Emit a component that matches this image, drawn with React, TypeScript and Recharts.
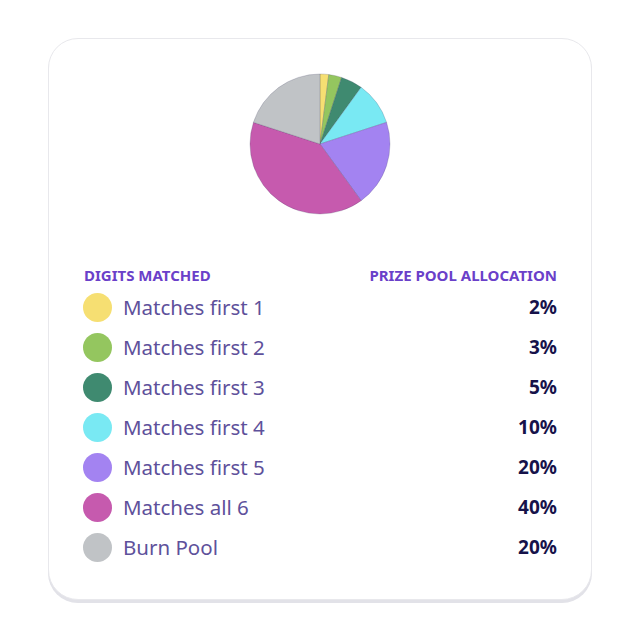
import { PieChart, Pie, Cell } from 'recharts';

const labels = ['Matches first 1', 'Matches first 2', 'Matches first 3', 'Matches first 4', 'Matches first 5', 'Matches all 6', 'Burn Pool'];
const shares = [2, 3, 5, 10, 20, 40, 20];
const colors = ['#f6df72', '#94c65f', '#3f8a70', '#79e9f3', '#a383f1', '#c65aae', '#c0c3c6'];

const data = labels.map((name, i) => ({ name, value: shares[i] }));

const font = '"Noto Sans", "Open Sans", sans-serif';

function App() {
  return (
    <div style={{ position: 'absolute', left: 0, top: 0, width: 640, height: 640, background: '#fff', fontFamily: font }}>
      <div
        style={{
          position: 'absolute', left: 48, top: 38, width: 542, height: 560,
          border: '1px solid #e8e8ec', borderRadius: 30,
          boxShadow: '0 3px 0 #e2e2e8', background: '#fff',
        }}
      />
      <div style={{ position: 'absolute', left: 0, top: 0 }}>
        <PieChart width={640} height={230} margin={{ top: 0, right: 0, bottom: 0, left: 0 }}>
          <Pie
            data={data}
            dataKey="value"
            nameKey="name"
            cx={320}
            cy={144}
            outerRadius={70}
            startAngle={90}
            endAngle={-270}
            stroke="rgba(60,60,90,0.35)"
            strokeWidth={0.6}
            isAnimationActive={false}
          >
            {data.map((d, i) => (
              <Cell key={d.name} fill={colors[i]} />
            ))}
          </Pie>
        </PieChart>
      </div>

      {/* legend / allocation table */}
      <div style={{ position: 'absolute', left: 84, top: 265, fontSize: 15, fontWeight: 700, color: '#6a40c9' }}>
        DIGITS MATCHED
      </div>
      <div style={{ position: 'absolute', right: 83, top: 265, fontSize: 15, fontWeight: 700, color: '#6a40c9' }}>
        PRIZE POOL ALLOCATION
      </div>
      {data.map((d, i) => (
        <div key={d.name} style={{ position: 'absolute', left: 83, top: 293 + i * 40, width: 474, height: 30 }}>
          <div style={{ position: 'absolute', left: 0, top: 0, width: 29, height: 29, borderRadius: '50%', background: colors[i] }} />
          <div style={{ position: 'absolute', left: 40, top: 0, fontSize: 20.5, lineHeight: '28px', color: '#5e519b' }}>{d.name}</div>
          <div style={{ position: 'absolute', right: 0, top: 0, fontSize: 19, lineHeight: '28px', fontWeight: 700, color: '#16124a' }}>{d.value}%</div>
        </div>
      ))}
    </div>
  );
}

export default App;
